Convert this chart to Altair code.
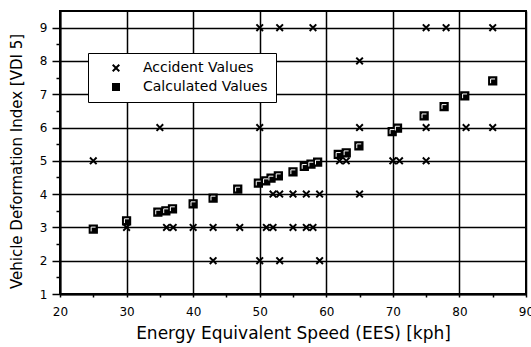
import altair as alt
import pandas as pd

# ---- data ----
acc_x = [50, 53, 58, 75, 78, 85,
         65,
         35, 50, 65, 75, 81, 85,
         25, 62, 63, 70, 71, 75,
         52, 53, 55, 57, 59, 65,
         30, 36, 37, 40, 43, 47, 51, 52, 55, 57, 58,
         43, 50, 53, 59]
acc_y = [9, 9, 9, 9, 9, 9,
         8,
         6, 6, 6, 6, 6, 6,
         5, 5, 5, 5, 5, 5,
         4, 4, 4, 4, 4, 4,
         3, 3, 3, 3, 3, 3, 3, 3, 3, 3, 3,
         2, 2, 2, 2]

calc_x = [25, 30, 34.7, 35.9, 36.9, 40, 43, 46.7, 49.8, 50.9, 51.7, 52.8, 55,
          56.7, 57.7, 58.7, 61.8, 63, 64.9, 69.9, 70.7, 74.7, 77.7, 80.8, 85]
calc_y = [2.95, 3.2, 3.46, 3.5, 3.56, 3.71, 3.88, 4.15, 4.33, 4.4, 4.48, 4.55, 4.67,
          4.83, 4.9, 4.96, 5.19, 5.24, 5.45, 5.88, 5.98, 6.35, 6.63, 6.95, 7.4]

series_names = ["Accident Values", "Calculated Values"]
x_ticks = [20, 25, 30, 35, 40, 45, 50, 55, 60, 65, 70, 75, 80, 85, 90]
y_ticks = [1, 1.5, 2, 2.5, 3, 3.5, 4, 4.5, 5, 5.5, 6, 6.5, 7, 7.5, 8, 8.5, 9]

x_title = "Energy Equivalent Speed (EES) [kph]"
y_title = "Vehicle Deformation Index [VDI 5]"

df_acc = pd.DataFrame({"x": acc_x, "y": acc_y, "series": series_names[0]})
df_calc = pd.DataFrame({"x": calc_x, "y": calc_y, "series": series_names[1]})

FONT = "DejaVu Sans"
# filled "X" outline so that it can be drawn with a fill, like the square
CROSS = ("M-1,-0.65L-0.35,0L-1,0.65L-0.65,1L0,0.35L0.65,1L1,0.65L0.35,0"
         "L1,-0.65L0.65,-1L0,-0.35L-0.65,-1Z")

x_enc = alt.X("x:Q", scale=alt.Scale(domain=[20, 90], nice=False, zero=False),
              axis=alt.Axis(values=x_ticks, tickCount=100, title=x_title,
                            labelExpr="datum.value % 10 === 0 ? format(datum.value, 'd') : ''",
                            gridColor={"condition": {"test": "datum.value % 10 === 0", "value": "black"},
                                       "value": "transparent"},
                            gridWidth=1.5, tickSize=3, tickColor="black", tickWidth=1.5,
                            domainColor="black", domainWidth=2,
                            labelFont=FONT, labelFontSize=12, labelColor="black",
                            labelPadding=9, labelFlush=False, labelOverlap=False,
                            titleFont=FONT, titleFontSize=17, titleFontWeight="normal",
                            titleColor="black", titlePadding=8))
y_enc = alt.Y("y:Q", scale=alt.Scale(domain=[1, 9.5], nice=False, zero=False),
              axis=alt.Axis(values=y_ticks, tickCount=100, title=y_title,
                            labelExpr="datum.value % 1 === 0 ? format(datum.value, 'd') : ''",
                            gridColor={"condition": {"test": "datum.value % 1 === 0", "value": "black"},
                                       "value": "transparent"},
                            gridWidth=1.5,
                            tickSize={"condition": {"test": "datum.value % 1 === 0", "value": 8},
                                      "value": 4},
                            tickColor="black", tickWidth=1.5,
                            domainColor="black", domainWidth=2,
                            labelFont=FONT, labelFontSize=12, labelColor="black",
                            labelPadding=5, labelFlush=False, labelOverlap=False,
                            titleFont=FONT, titleFontSize=15, titleFontWeight="normal",
                            titleColor="black", titleX=-44, titleY=150,
                            titleBaseline="middle"))

shape_enc = alt.Shape("series:N",
                      scale=alt.Scale(domain=series_names, range=[CROSS, "square"]),
                      legend=alt.Legend(title=None, orient="none", legendX=28, legendY=42,
                                        fillColor="white", strokeColor="black",
                                        padding=8, rowPadding=5,
                                        labelFont=FONT, labelFontSize=14, labelColor="black",
                                        labelOffset=20, symbolOffset=13,
                                        symbolSize=64,
                                        symbolFillColor="black"))

crosses = alt.Chart(df_acc).mark_point(
    filled=True, fill="black", size=64, opacity=1
).encode(x=x_enc, y=y_enc, shape=shape_enc)

squares = alt.Chart(df_calc).mark_point(
    filled=True, fill="black", stroke="black", strokeWidth=1.5, size=60, opacity=1
).encode(x="x:Q", y="y:Q", shape=shape_enc)

highlight = alt.Chart(df_calc).mark_point(
    shape="M-0.55,0.6L-0.55,-0.5L0.6,-0.5", filled=False, stroke="white",
    strokeWidth=1, size=60, opacity=1
).encode(x="x:Q", y="y:Q")

chart = alt.layer(crosses, squares, highlight).properties(
    width=466, height=283,
    autosize=alt.AutoSizeParams(type="none"),
    padding={"left": 60, "top": 11, "right": 5, "bottom": 53},
    background="white",
).configure_view(stroke="black", strokeWidth=2)

chart.save("out.html", embed_options={"renderer": "svg", "actions": False})
